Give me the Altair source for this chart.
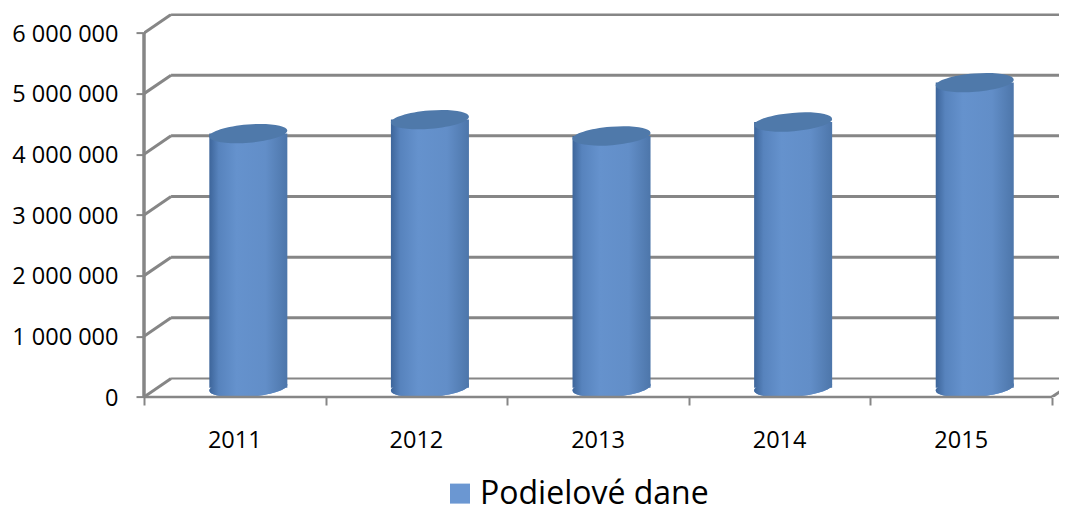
import altair as alt
import pandas as pd

years = ["2011", "2012", "2013", "2014", "2015"]
values = [4190000, 4420000, 4150000, 4380000, 5030000]
levels = [0, 1000000, 2000000, 3000000, 4000000, 5000000, 6000000]
category_edges = [0, 1, 2, 3, 4, 5]
series_name = "Podielové dane"

GRAY = "#868686"
FONT = "Open Sans"
X_MAX = 5.0385
Y_MAX = 6320000
DEPTH_X = 0.149
DEPTH_Y = 305000
HALF_W = 0.2148
ELLIPSE = "M -1 0.08 A 1.003 0.235 -4.6 1 1 1 -0.08 A 1.003 0.235 -4.6 1 1 -1 0.08 Z"

xs = alt.Scale(domain=[0, X_MAX], nice=False, zero=False)
ys = alt.Scale(domain=[0, Y_MAX], nice=False, zero=False)
x_axis = alt.Axis(
    values=category_edges, labels=False, domain=False, grid=False,
    tickSize=8, tickWidth=2, tickColor=GRAY)
y_axis = alt.Axis(
    values=levels, domain=False, grid=False, tickSize=8, tickWidth=2, tickColor=GRAY,
    labelPadding=18, labelFont=FONT, labelFontSize=23.5, labelColor="#000000", labelOffset=1,
    labelExpr="replace(format(datum.value, ','), /,/g, ' ')")
X = lambda f: alt.X(f, type="quantitative", scale=xs, title=None, axis=x_axis)
Y = lambda f: alt.Y(f, type="quantitative", scale=ys, title=None, axis=y_axis)

bars = pd.DataFrame({
    "year": years,
    "v": values,
    "mid": [i + 0.5 for i in range(5)],
})
bars["cx"] = bars.mid + DEPTH_X / 2
bars["x0"] = bars.cx - HALF_W
bars["x1"] = bars.cx + HALF_W
bars["base"] = DEPTH_Y / 2
bars["top"] = bars.v + DEPTH_Y / 2
bars["series"] = series_name
bars["zero"] = 0

back = pd.DataFrame({"y": [v + DEPTH_Y for v in levels[1:]], "x": DEPTH_X, "x2": X_MAX})
back0 = pd.DataFrame({"y": [DEPTH_Y], "x": [DEPTH_X], "x2": [X_MAX]})
diag = pd.DataFrame(
    [{"lv": v, "x": 0, "y": v} for v in levels]
    + [{"lv": v, "x": DEPTH_X, "y": v + DEPTH_Y} for v in levels]
    + [{"lv": -1, "x": 5, "y": 0}, {"lv": -1, "x": 5 + DEPTH_X, "y": DEPTH_Y}]
)

grid = alt.Chart(back).mark_rule(color=GRAY, strokeWidth=3, clip=True).encode(
    x=X("x"), x2="x2", y=Y("y"))
grid0 = alt.Chart(back0).mark_rule(color=GRAY, strokeWidth=2, clip=True).encode(
    x=X("x"), x2="x2", y=Y("y"))
diagonals = alt.Chart(diag).mark_line(color=GRAY, strokeWidth=3, clip=True).encode(
    x=X("x"), y=Y("y"), detail="lv:N")
front_y = alt.Chart(pd.DataFrame({"x": [0], "y": [0], "y2": [6000000]})).mark_rule(color=GRAY, strokeWidth=3.5).encode(
    x=X("x"), y=Y("y"), y2="y2")
front_x = alt.Chart(pd.DataFrame({"x": [0], "x2": [5], "y": [0]})).mark_rule(color=GRAY, strokeWidth=2.5).encode(
    x=X("x"), x2="x2", y=Y("y"))

gradient = alt.Gradient(
    gradient="linear", x1=0, x2=1, y1=0, y2=0,
    stops=[
        alt.GradientStop(color="#3d659a", offset=0),
        alt.GradientStop(color="#5783bd", offset=0.12),
        alt.GradientStop(color="#6592cd", offset=0.35),
        alt.GradientStop(color="#628ec8", offset=0.72),
        alt.GradientStop(color="#4d76aa", offset=1),
    ],
)
legend_marks = alt.Chart(bars).mark_point(shape=ELLIPSE, size=6084, filled=True, opacity=1).encode(
    x=X("cx"), y=Y("base"),
    color=alt.Color("series:N", scale=alt.Scale(range=["#6b97d2"]), legend=alt.Legend(
        title=None, orient="none", legendX=300, legendY=464, symbolType="square",
        symbolSize=400, symbolStrokeWidth=0, labelFont=FONT, labelFontSize=32,
        labelLimit=400, labelColor="#000000", labelOffset=4)),
)
bottoms = alt.Chart(bars).mark_point(shape=ELLIPSE, size=6084, filled=True, opacity=1, fill=gradient).encode(
    x=X("cx"), y=Y("base"))
bodies = alt.Chart(bars).mark_bar(fill=gradient).encode(
    x=X("x0"), x2="x1", y=Y("base"), y2="top")
tops = alt.Chart(bars).mark_point(shape=ELLIPSE, size=6084, filled=True, opacity=1, fill="#4f79aa").encode(
    x=X("cx"), y=Y("top"))
labels = alt.Chart(bars).mark_text(
    font=FONT, fontSize=23.5, color="#000000", dy=44).encode(
    x=X("mid"), y=Y("zero"), text="year:N")

chart = alt.layer(grid, grid0, diagonals, legend_marks, bottoms, bodies, tops, front_y, front_x, labels).properties(
    width=915, height=383.4,
    padding={"left": 136, "top": 5.6, "right": 0, "bottom": 115},
    autosize=alt.AutoSizeParams(type="none"),
).configure_view(stroke=None)

chart.save("out.html", embed_options={"renderer": "svg", "actions": False})
